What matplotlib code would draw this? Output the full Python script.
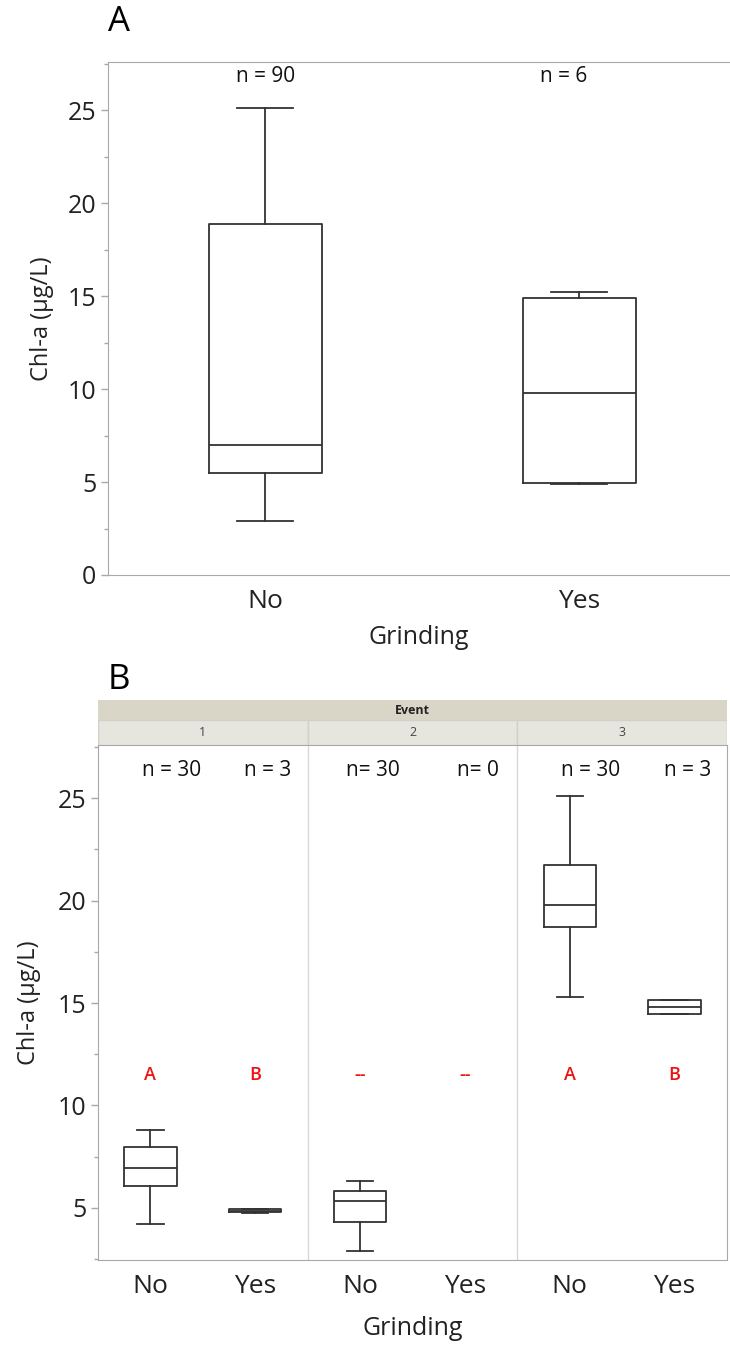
import matplotlib.pyplot as plt
from matplotlib.patches import Rectangle
from matplotlib.ticker import MultipleLocator

plt.rcParams['font.family'] = ['Open Sans', 'DejaVu Sans']

# ---- data: panel A (Grinding, all events pooled)
groups_a = ['No', 'Yes']
n_a = ['n = 90', 'n = 6']
whislo_a = [2.9, 4.9]
q1_a = [5.5, 4.95]
med_a = [7.0, 9.8]
q3_a = [18.9, 14.9]
whishi_a = [25.1, 15.2]

# ---- data: panel B (Grinding within Event)
events = ['1', '2', '3']
groups_b = ['No', 'Yes', 'No', 'Yes', 'No', 'Yes']
n_b = ['n = 30', 'n = 3', 'n= 30', 'n= 0', 'n = 30', 'n = 3']
letters_b = ['A', 'B', '--', '--', 'A', 'B']
whislo_b = [4.2, 4.75, 2.9, None, 15.3, 14.45]
q1_b = [6.05, 4.8, 4.3, None, 18.7, 14.45]
med_b = [6.95, 4.85, 5.35, None, 19.8, 14.8]
q3_b = [7.95, 4.95, 5.8, None, 21.75, 15.15]
whishi_b = [8.8, 4.95, 6.3, None, 25.1, 15.15]

GRAY = '#a8a8a8'
FS_TICK = 18

fig = plt.figure(figsize=(7.3, 13.47), dpi=100)


def style_axes(ax):
    for s in ['left', 'bottom', 'top', 'right']:
        ax.spines[s].set_color(GRAY)
    ax.tick_params(axis='y', which='major', colors=GRAY, labelcolor='#222222',
                   labelsize=FS_TICK, length=5, width=1)
    ax.tick_params(axis='y', which='minor', colors=GRAY, length=3, width=1)
    ax.tick_params(axis='x', length=0, labelsize=19, labelcolor='#222222', pad=10)


def stats(lo, a, m, b, hi):
    return dict(whislo=lo, q1=a, med=m, q3=b, whishi=hi, fliers=[])


box_style = dict(
    boxprops=dict(color='#333333', linewidth=1.3),
    medianprops=dict(color='#333333', linewidth=1.3),
    whiskerprops=dict(color='#333333', linewidth=1.3),
    capprops=dict(color='#333333', linewidth=1.3),
)

# ================= Panel A =================
axA = fig.add_axes([108 / 730, 1 - 575 / 1347, 1 - 108 / 730, (575 - 62) / 1347])
st_a = [stats(*v) for v in zip(whislo_a, q1_a, med_a, q3_a, whishi_a)]
pos_a = list(range(len(groups_a)))
axA.bxp(st_a, positions=pos_a, widths=0.36, showfliers=False, **box_style)
axA.set_xlim(-0.5, 1.48)
axA.set_ylim(0, 27.6)
axA.yaxis.set_major_locator(MultipleLocator(5))
axA.yaxis.set_minor_locator(MultipleLocator(2.5))
axA.set_xticks(pos_a)
axA.set_xticklabels(groups_a)
style_axes(axA)
axA.spines['right'].set_visible(False)
axA.set_ylabel('Chl-a (µg/L)', fontsize=17, color='#222222', labelpad=10)
axA.set_xlabel('Grinding', fontsize=18, color='#222222', labelpad=8)
for p, t, dx in zip(pos_a, n_a, [0.0, -0.05]):
    axA.text(p + dx, 26.8, t, ha='center', va='center', fontsize=15, color='#111111')
fig.text(108 / 730, 1 - 22 / 1347, 'A', fontsize=25, ha='left', va='center')

# ================= Panel B =================
axB = fig.add_axes([98 / 730, 1 - 1260 / 1347, (727 - 98) / 730, (1260 - 745) / 1347])
pos_b = [i + 0.5 for i in range(len(groups_b))]
st_b, pos_used = [], []
for i, v in enumerate(zip(whislo_b, q1_b, med_b, q3_b, whishi_b)):
    if v[0] is None:
        continue
    st_b.append(stats(*v))
    pos_used.append(pos_b[i])
axB.bxp(st_b, positions=pos_used, widths=0.5, showfliers=False, **box_style)
axB.set_xlim(0, 6)
axB.set_ylim(2.45, 27.6)
axB.yaxis.set_major_locator(MultipleLocator(5))
axB.yaxis.set_minor_locator(MultipleLocator(2.5))
axB.set_xticks(pos_b)
axB.set_xticklabels(groups_b)
style_axes(axB)
for xv in [2, 4]:
    axB.axvline(xv, color='#d8d8d8', linewidth=1)
axB.set_ylabel('Chl-a (µg/L)', fontsize=17, color='#222222', labelpad=12)
axB.set_xlabel('Grinding', fontsize=18, color='#222222', labelpad=12)
for p, t, l in zip(pos_b, n_b, letters_b):
    axB.text(p + 0.2 if t.startswith('n = 30') else p + 0.12, 26.35, t,
             ha='center', va='center', fontsize=15, color='#111111')
    axB.text(p, 11.5, l, ha='center', va='center', fontsize=13,
             fontweight='semibold', color='#ee1111')
fig.text(108 / 730, 1 - 680 / 1347, 'B', fontsize=25, ha='left', va='center')

# header strip: Event / 1 2 3
axH = fig.add_axes([98 / 730, 1 - 745 / 1347, (727 - 98) / 730, 45 / 1347])
axH.set_xlim(0, 6)
axH.set_ylim(0, 45)
axH.axis('off')
axH.add_patch(Rectangle((0, 25), 6, 20, facecolor='#d9d6c7', edgecolor='none'))
axH.text(3, 35, 'Event', ha='center', va='center', fontsize=9, fontweight='bold', color='#222222')
for i, ev in enumerate(events):
    axH.add_patch(Rectangle((2 * i, 0), 2, 25, facecolor='#e7e6de', edgecolor='#d2d1c8', linewidth=1))
    axH.text(2 * i + 1, 12.5, ev, ha='center', va='center', fontsize=9, color='#444444')

fig.savefig('out.png', dpi=100)
